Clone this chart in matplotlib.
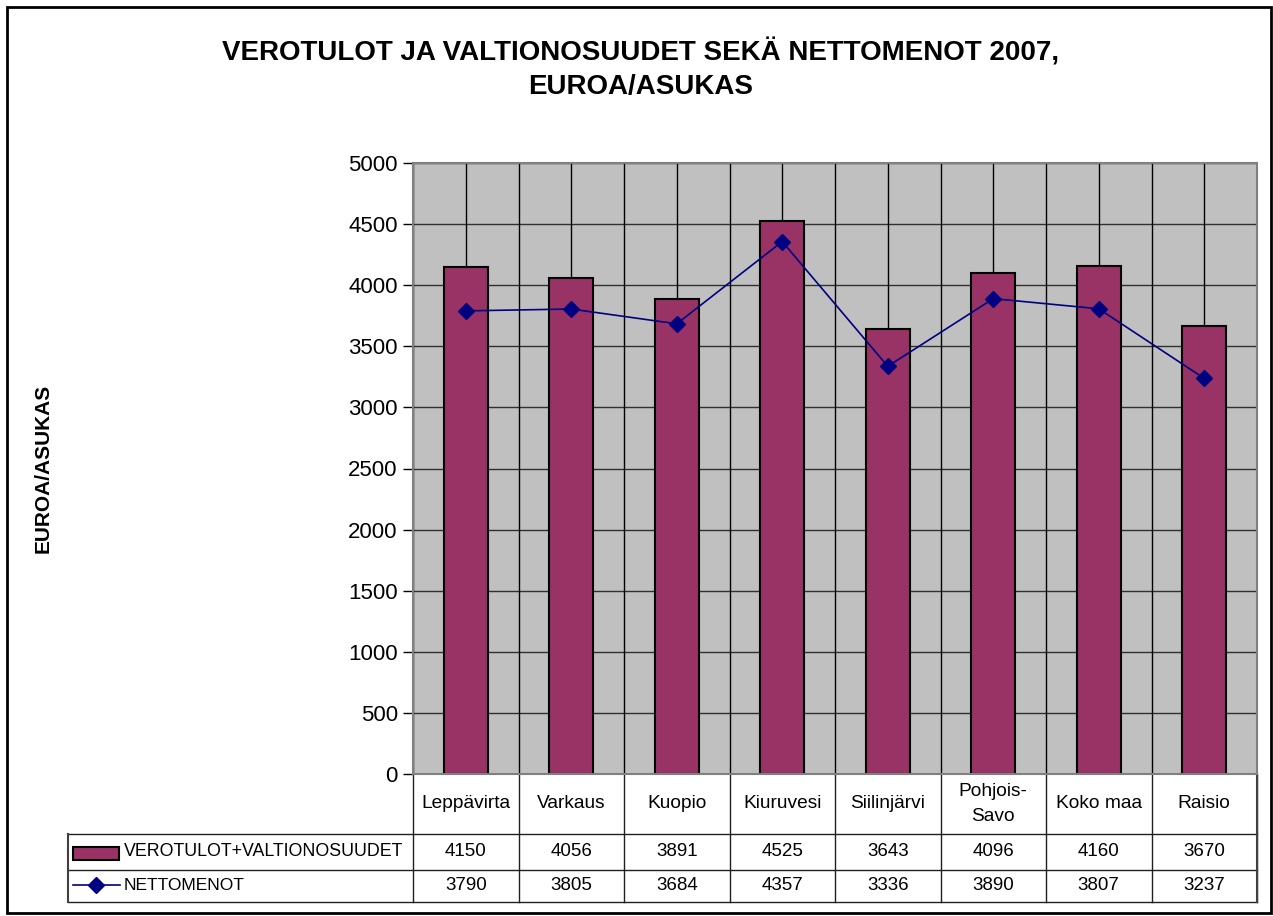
import matplotlib.pyplot as plt
from matplotlib.patches import Rectangle
from matplotlib.lines import Line2D

plt.rcParams['font.family'] = ['Liberation Sans', 'DejaVu Sans']

# data
kunnat = ['Leppävirta', 'Varkaus', 'Kuopio', 'Kiuruvesi', 'Siilinjärvi',
          'Pohjois-\nSavo', 'Koko maa', 'Raisio']
verotulot = [4150, 4056, 3891, 4525, 3643, 4096, 4160, 3670]
nettomenot = [3790, 3805, 3684, 4357, 3336, 3890, 3807, 3237]

bar_col = '#993366'
line_col = '#000080'

W, H = 1273, 916
fig = plt.figure(figsize=(W / 100, H / 100), dpi=100)

# plot area in pixel coordinates
left, right, top, bottom = 413, 1257, 163, 774
ax = fig.add_axes([left / W, 1 - bottom / H, (right - left) / W, (bottom - top) / H])
ax.set_facecolor('#C0C0C0')

x = list(range(len(kunnat)))
ax.bar(x, verotulot, width=0.42, color=bar_col, edgecolor='black', linewidth=1.5, zorder=3)
ax.plot(x, nettomenot, color=line_col, lw=1.2, marker='D', ms=8, zorder=4)

ax.set_xlim(-0.5, len(kunnat) - 0.5)
ax.set_ylim(0, 5000)
ax.set_yticks(range(0, 5001, 500))
ax.tick_params(axis='y', labelsize=16, length=7, width=1, pad=4, direction='out')
ax.set_xticks([])
for v in range(0, 5001, 500):
    ax.axhline(v, color='#303030', lw=1, zorder=1)
for i in range(2 * len(kunnat) + 1):
    ax.axvline(-0.5 + i * 0.5, color='black', lw=1, zorder=1)
for s in ax.spines.values():
    s.set_color('#808080')
    s.set_linewidth(1.5)
    s.set_zorder(5)

# data table below the plot (x in data units, y in axes fraction)
tr = ax.get_xaxis_transform()
ph = bottom - top


def fy(py):
    return -(py - bottom) / ph


y_head, y_r1, y_r2 = fy(834), fy(870), fy(902)
x_leg = (68 - left) / ((right - left) / len(kunnat)) - 0.5
xmax = len(kunnat) - 0.5

for yy in (y_head, y_r1, y_r2):
    ax.add_line(Line2D([x_leg, xmax], [yy, yy], transform=tr, color='#202020', lw=1, clip_on=False))
for i in range(len(kunnat) + 1):
    ax.add_line(Line2D([i - 0.5, i - 0.5], [0, y_r2], transform=tr, color='#202020', lw=1, clip_on=False))
ax.add_line(Line2D([x_leg, x_leg], [y_head, y_r2], transform=tr, color='#404040', lw=1.5, clip_on=False))
ax.add_line(Line2D([xmax, xmax], [0, y_r2], transform=tr, color='#404040', lw=1.5, clip_on=False))

for i, k in enumerate(kunnat):
    ax.text(i, (0 + y_head) / 2, k, transform=tr, ha='center', va='center', fontsize=13.8,
            linespacing=1.55)
    ax.text(i, (y_head + y_r1) / 2, str(verotulot[i]), transform=tr, ha='center', va='center',
            fontsize=13.5)
    ax.text(i, (y_r1 + y_r2) / 2, str(nettomenot[i]), transform=tr, ha='center', va='center',
            fontsize=13.5)

# legend keys inside the table
cw = (right - left) / len(kunnat)


def fx(px):
    return (px - left) / cw - 0.5


ax.add_patch(Rectangle((fx(73), fy(860)), fx(119) - fx(73), fy(847) - fy(860), transform=tr,
                       facecolor=bar_col, edgecolor='black', lw=1.5, clip_on=False))
ax.text(fx(124), (y_head + y_r1) / 2, 'VEROTULOT+VALTIONOSUUDET', transform=tr, ha='left',
        va='center', fontsize=12.8)
ax.add_line(Line2D([fx(73), fx(120)], [fy(885), fy(885)], transform=tr, color=line_col, lw=1.2,
                   clip_on=False))
ax.add_line(Line2D([fx(96)], [fy(885)], transform=tr, color=line_col, marker='D', ms=8,
                   clip_on=False))
ax.text(fx(124), (y_r1 + y_r2) / 2, 'NETTOMENOT', transform=tr, ha='left', va='center',
        fontsize=12.5)

# titles
fig.text(641 / W, 1 - 52 / H, 'VEROTULOT JA VALTIONOSUUDET SEKÄ NETTOMENOT 2007,',
         ha='center', va='center', fontsize=20, fontweight='bold')
fig.text(641 / W, 1 - 87 / H, 'EUROA/ASUKAS', ha='center', va='center', fontsize=20,
         fontweight='bold')
fig.text(43 / W, 1 - 468 / H, 'EUROA/ASUKAS', ha='center', va='center', rotation=90,
         fontsize=15, fontweight='bold')

# chart border
fig.add_artist(Rectangle((7 / W, 1 - 913 / H), (1271 - 7) / W, (913 - 7) / H,
                         transform=fig.transFigure, fill=False, edgecolor='black', lw=2))

fig.savefig('out.png', dpi=100)
